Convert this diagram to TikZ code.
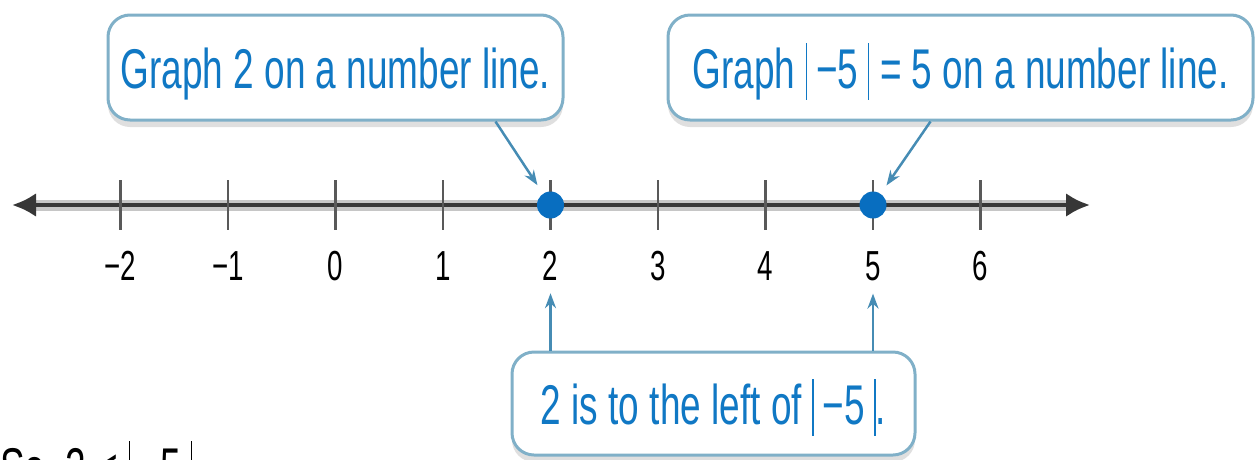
\documentclass[tikz,border=0pt]{standalone}
\usepackage{fontspec}
\setmainfont{Liberation Sans}[FakeStretch=0.66]
\usetikzlibrary{arrows.meta,shadows}

\definecolor{calloutblue}{RGB}{16,120,196}
\definecolor{calloutedge}{RGB}{128,176,200}
\definecolor{pointerblue}{RGB}{70,140,180}
\definecolor{dotblue}{RGB}{8,110,192}
\definecolor{axisgray}{RGB}{55,55,55}

% thin tall bar for absolute value
\newcommand{\absbar}{\rule[-0.2em]{1.4pt}{1.02em}}

\tikzset{
  callout/.style={draw=calloutedge, line width=3pt, rounded corners=22pt, fill=white,
    text=calloutblue, inner sep=0pt, font=\fontsize{56}{60}\selectfont,
    text height=42pt, text depth=0pt,
    drop shadow={shadow xshift=0pt, shadow yshift=-7pt, opacity=0.25, fill=gray}},
  pointer/.style={draw=pointerblue, line width=2.5pt, -{Stealth[length=15pt,width=11pt]}},
  ticklabel/.style={anchor=base, inner sep=0pt, font=\fontsize{42}{44}\selectfont},
  dot/.style={circle, fill=dotblue, minimum size=27pt, inner sep=0pt},
}

\begin{document}
\begin{tikzpicture}[x=1pt, y=-1pt]
  \useasboundingbox (0,0) rectangle (1257,459);
  \clip (0,0) rectangle (1257,459);
  % number line
  \draw[gray!45, line width=11pt] (30,205) -- (1072,205);
  \draw[axisgray, line width=4.5pt, {Latex[length=24pt,width=24pt]}-{Latex[length=24pt,width=24pt]}] (12,205) -- (1090,205);
  \foreach \n in {-2,...,6}
  {
    \draw[gray!70!black, line width=2.5pt] ({335.5+107.5*\n},180) -- ({335.5+107.5*\n},230);
    \node[ticklabel] (lbl\n) at ({335.5+107.5*\n},280) {\ifnum\n<0 −\number\numexpr-\n\relax\else\n\fi};
  }
  \node[dot] (dottwo) at (550.5,205) {};
  \node[dot] (dotfive) at (873,205) {};

  % callouts
  \node[callout, minimum width=455pt, minimum height=105pt] (graphtwo) at (335.5,67.5) {Graph 2 on a number line.};
  \node[callout, minimum width=585pt, minimum height=105pt] (graphfive) at (960.5,67.5) {Graph \absbar\,−5\,\absbar\hspace{11pt}= 5 on a number line.};
  \node[callout, minimum width=403pt, minimum height=103pt] (leftof) at (713.5,403.5) {2 is to the left of \absbar\,−5\,\absbar.};

  \draw[pointer, shorten >=10pt] ([xshift=160pt]graphtwo.south) -- (dottwo);
  \draw[pointer, shorten >=10pt] ([xshift=-30pt]graphfive.south) -- (dotfive);
  \draw[pointer, shorten >=13pt] (leftof.north -| lbl2) -- (lbl2.south);
  \draw[pointer, shorten >=13pt] (leftof.north -| lbl5) -- (lbl5.south);

  \node[anchor=base west, inner sep=0pt, font=\fontsize{56}{60}\selectfont] (sotext) at (0,487) {So, 2 < \absbar\,−5\,\absbar};
\end{tikzpicture}
\end{document}
